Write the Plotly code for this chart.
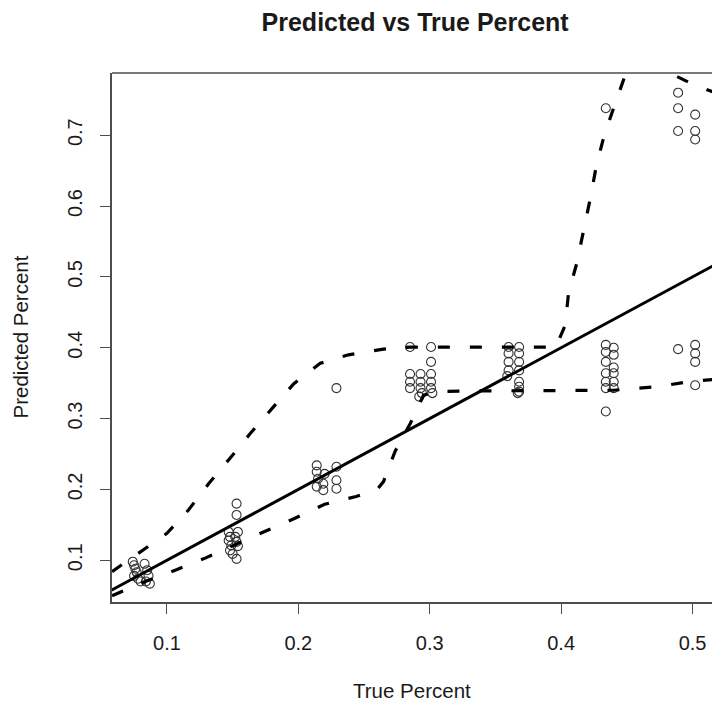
import plotly.graph_objects as go

# Observed vs predicted percentages (grouped near each true value)
true_pct = [
    0.074, 0.075, 0.076, 0.077, 0.075, 0.078, 0.080,
    0.083, 0.085, 0.086, 0.084, 0.087,
    0.147, 0.148, 0.147, 0.149, 0.148, 0.150,
    0.153, 0.153, 0.154, 0.152, 0.153, 0.154, 0.153,
    0.214, 0.214, 0.215, 0.214,
    0.219, 0.219, 0.220,
    0.229, 0.229, 0.229, 0.229,
    0.285, 0.285, 0.285, 0.285,
    0.293, 0.293, 0.293, 0.294, 0.292,
    0.301, 0.301, 0.301, 0.301, 0.301, 0.302,
    0.360, 0.360, 0.360, 0.360, 0.359,
    0.368, 0.368, 0.368, 0.368, 0.368, 0.368, 0.368, 0.367,
    0.434, 0.434, 0.434, 0.434, 0.434, 0.434, 0.434, 0.434,
    0.440, 0.440, 0.440, 0.440, 0.440, 0.440,
    0.489, 0.489, 0.489, 0.489,
    0.502, 0.502, 0.502, 0.502, 0.502, 0.502, 0.502,
]
pred_pct = [
    0.098, 0.093, 0.088, 0.083, 0.078, 0.074, 0.070,
    0.095, 0.086, 0.078, 0.070, 0.067,
    0.140, 0.133, 0.128, 0.121, 0.114, 0.109,
    0.180, 0.164, 0.140, 0.133, 0.126, 0.120, 0.102,
    0.234, 0.225, 0.215, 0.204,
    0.208, 0.199, 0.222,
    0.232, 0.213, 0.201, 0.343,
    0.401, 0.363, 0.352, 0.343,
    0.363, 0.352, 0.343, 0.336, 0.331,
    0.401, 0.380, 0.363, 0.352, 0.343, 0.336,
    0.401, 0.392, 0.380, 0.368, 0.360,
    0.401, 0.392, 0.380, 0.368, 0.352, 0.345, 0.338, 0.336,
    0.404, 0.394, 0.380, 0.364, 0.352, 0.343, 0.310, 0.738,
    0.400, 0.390, 0.372, 0.364, 0.352, 0.343,
    0.398, 0.760, 0.738, 0.706,
    0.404, 0.392, 0.380, 0.347, 0.729, 0.706, 0.694,
]

# Upper and lower smoothed envelopes
upper_x = [0.0582, 0.0797, 0.100, 0.1164, 0.1317, 0.148, 0.1634, 0.1799,
           0.1964, 0.2167, 0.2382, 0.2648, 0.2852, 0.320, 0.360, 0.396,
           0.4031, 0.4056, 0.412, 0.417, 0.4222, 0.4267, 0.4328, 0.4412,
           0.4488, 0.458, 0.468, 0.478, 0.4868, 0.500, 0.512, 0.520]
upper_y = [0.084, 0.112, 0.138, 0.171, 0.208, 0.244, 0.279, 0.314,
           0.349, 0.378, 0.390, 0.398, 0.401, 0.401, 0.401, 0.401,
           0.432, 0.477, 0.520, 0.564, 0.611, 0.656, 0.700, 0.745,
           0.785, 0.815, 0.825, 0.810, 0.784, 0.772, 0.764, 0.758]

lower_x = [0.0582, 0.0822, 0.1063, 0.1291, 0.1748, 0.1970, 0.2200, 0.2440,
           0.2600, 0.2648, 0.2737, 0.2852, 0.2953, 0.305, 0.330, 0.370,
           0.410, 0.440, 0.4729, 0.4969, 0.520]
lower_y = [0.050, 0.069, 0.086, 0.103, 0.141, 0.159, 0.179, 0.190,
           0.200, 0.211, 0.254, 0.293, 0.333, 0.338, 0.339, 0.339,
           0.339, 0.340, 0.345, 0.352, 0.356]

# y = x reference line
identity = [0.0, 1.0]

x_ticks = [0.1, 0.2, 0.3, 0.4, 0.5]
y_ticks = [0.1, 0.2, 0.3, 0.4, 0.5, 0.6, 0.7]

FONT = "Liberation Sans, Arial, Helvetica, sans-serif"
AXIS_COLOR = "#4d4d4d"
TEXT_COLOR = "#1a1a1a"

fig = go.Figure()

fig.add_trace(go.Scatter(
    x=true_pct, y=pred_pct, mode="markers",
    marker=dict(symbol="circle-open", size=9, color="#333333",
                line=dict(width=1.1, color="#333333")),
    cliponaxis=True, hoverinfo="x+y",
))
fig.add_trace(go.Scatter(
    x=identity, y=identity, mode="lines",
    line=dict(color="black", width=3),
))
for xs, ys in ((upper_x, upper_y), (lower_x, lower_y)):
    fig.add_trace(go.Scatter(
        x=xs, y=ys, mode="lines",
        line=dict(color="black", width=3.2, dash="12px,20px"),
    ))

fig.update_layout(
    width=712, height=702,
    margin=dict(l=112, r=0, t=73, b=100),
    paper_bgcolor="white", plot_bgcolor="white",
    showlegend=False,
    font=dict(family=FONT, color=TEXT_COLOR),
    title=dict(text="<b>Predicted vs True Percent</b>",
               font=dict(family=FONT, size=25, color=TEXT_COLOR),
               x=0.583, xref="container", xanchor="center",
               y=1 - 22 / 702, yref="container", yanchor="middle"),
)

fig.update_xaxes(
    range=[0.0582, 0.5148], tickvals=x_ticks,
    ticktext=[f"{v:g}" for v in x_ticks],
    showgrid=False, zeroline=False,
    showline=True, linecolor=AXIS_COLOR, linewidth=1.6,
    ticks="outside", ticklen=10, tickwidth=1.3, tickcolor=AXIS_COLOR,
    tickfont=dict(size=20, family=FONT, color=TEXT_COLOR),
    ticklabelstandoff=12,
)
fig.update_yaxes(
    range=[0.0411, 0.7878], tickvals=y_ticks,
    ticktext=[f"{v:g}" for v in y_ticks],
    showgrid=False, zeroline=False,
    showline=True, linecolor=AXIS_COLOR, linewidth=1.6,
    ticks="outside", ticklen=10, tickwidth=1.3, tickcolor=AXIS_COLOR,
    tickangle=-90,
    tickfont=dict(size=20, family=FONT, color=TEXT_COLOR),
    ticklabelstandoff=10,
)

# top border of the plotting box
fig.add_shape(type="line", xref="paper", yref="paper", x0=0, x1=1, y0=1, y1=1,
              line=dict(color=AXIS_COLOR, width=1.6))

fig.add_annotation(text="True Percent", xref="paper", yref="paper",
                   x=0.5, y=0, yshift=-88, showarrow=False,
                   xanchor="center", yanchor="middle", borderpad=0,
                   font=dict(size=20.5, family=FONT, color=TEXT_COLOR))
fig.add_annotation(text="Predicted Percent", xref="paper", yref="paper",
                   x=0, y=0.5, xshift=-92, showarrow=False, textangle=-90,
                   xanchor="center", yanchor="middle", borderpad=0,
                   font=dict(size=20.5, family=FONT, color=TEXT_COLOR))

fig.write_html("out.html")
